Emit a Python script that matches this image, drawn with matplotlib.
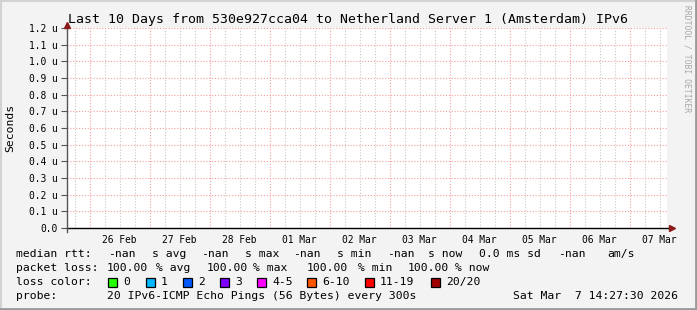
import matplotlib
matplotlib.use("Agg")
import matplotlib.pyplot as plt
from matplotlib.patches import Rectangle
from matplotlib.lines import Line2D

# figure size in pixels
W, H = 697, 310

title = "Last 10 Days from 530e927cca04 to Netherland Server 1 (Amsterdam) IPv6"
day_labels = ["26 Feb", "27 Feb", "28 Feb", "01 Mar", "02 Mar",
              "03 Mar", "04 Mar", "05 Mar", "06 Mar", "07 Mar"]
t_start = 14.9          # hours after 25 Feb 00:00
span_hours = 240        # last 10 days
y_vals = [0.0, 0.1, 0.2, 0.3, 0.4, 0.5, 0.6, 0.7, 0.8, 0.9, 1.0, 1.1, 1.2]  # microseconds

rtt_tokens = ["median rtt:", "-nan", "s avg", "-nan", "s max", "-nan", "s min",
              "-nan", "s now", "0.0 ms sd", "-nan", "am/s"]
loss_tokens = ["packet loss:", "100.00", "% avg", "100.00", "% max",
               "100.00", "% min", "100.00", "% now"]
loss_labels = ["0", "1", "2", "3", "4-5", "6-10", "11-19", "20/20"]
loss_colors = ["#26ff00", "#00b8ff", "#0059ff", "#7e00ff",
               "#ff00ff", "#ff5500", "#ff0000", "#a10000"]
probe_text = "20 IPv6-ICMP Echo Pings (56 Bytes) every 300s"
stamp = "Sat Mar  7 14:27:30 2026"
watermark = "RRDTOOL / TOBI OETIKER"

mono = "DejaVu Sans Mono"


def fx(x):
    return x / W


def fy(y):
    return 1 - y / H


fig = plt.figure(figsize=(W / 100, H / 100), dpi=100)
fig.patch.set_facecolor("#f3f3f3")

# 3d-ish frame
fig.add_artist(Line2D([0, 1], [fy(0.5), fy(0.5)], color="#d2d2d2", lw=1.5, transform=fig.transFigure))
fig.add_artist(Line2D([fx(0.5), fx(0.5)], [0, 1], color="#d2d2d2", lw=1.5, transform=fig.transFigure))
fig.add_artist(Line2D([0, 1], [fy(309), fy(309)], color="#9a9a9a", lw=2, transform=fig.transFigure))
fig.add_artist(Line2D([fx(696), fx(696)], [0, 1], color="#9a9a9a", lw=2, transform=fig.transFigure))

ax = fig.add_axes([fx(67), fy(228), 600 / W, 200 / H])
ax.set_facecolor("white")
t_end = t_start + span_hours
ax.set_xlim(t_start, t_end)
ymax = y_vals[-1] * 1e-6
ax.set_ylim(0, ymax)

# grid: minor every 6 h grey, major every day red
dotted = (0, (1, 1.6))
minor = [h for h in range(0, 24 * 12, 6) if t_start < h < t_end and h % 24]
major = [h for h in range(0, 24 * 12, 24) if t_start < h < t_end]
ax.vlines(minor, 0, ymax, colors="#c8c8c8", lw=0.8, linestyles=dotted, zorder=1)
ax.vlines(major, 0, ymax, colors="#f4a0a0", lw=0.8, linestyles=dotted, zorder=2)
ax.hlines([v * 1e-6 for v in y_vals[1:]], t_start, t_end, colors="#f4a0a0",
          lw=0.8, linestyles=dotted, zorder=2)

# ticks
ax.set_yticks([v * 1e-6 for v in y_vals])
ax.set_yticklabels([f"{v:.1f} u" if v else "0.0" for v in y_vals],
                   family=mono, fontsize=6.9)
ax.tick_params(axis="y", length=4, width=0.8, color="#555555", pad=3)
ax.set_xticks([24 * (i + 1) + 12 for i in range(len(day_labels))])
ax.set_xticklabels(day_labels, family=mono, fontsize=6.9)
ax.tick_params(axis="x", length=0, pad=5)

for s in ["top", "right", "bottom", "left"]:
    ax.spines[s].set_visible(False)

# axes lines + arrows
ax.plot([0, 1.005], [0, 0], color="black", lw=1, transform=ax.transAxes, clip_on=False, zorder=5)
ax.plot([0, 0], [-0.02, 1.015], color="#555555", lw=1, transform=ax.transAxes, clip_on=False, zorder=5)
ax.plot([1.008], [0], marker=">", ms=5, color="#8b1a1a", transform=ax.transAxes, clip_on=False, zorder=6)
ax.plot([0], [1.015], marker="^", ms=5, color="#8b1a1a", transform=ax.transAxes, clip_on=False, zorder=6)

fig.text(fx(347.5), fy(19.5), title, family=mono, fontsize=9.5, ha="center", va="center")
fig.text(fx(10), fy(128), "Seconds", family=mono, fontsize=8.2, rotation=90,
         ha="center", va="center")
fig.text(fx(687), fy(5), watermark, family=mono, fontsize=5.8, rotation=-90,
         ha="center", va="top", color="#a8a8a8")

fs = 8.2
rtt_x = [16, 108, 152, 201, 245, 293, 337, 387, 428, 479, 558, 607]
for x, s in zip(rtt_x, rtt_tokens):
    fig.text(fx(x), fy(254), s, family=mono, fontsize=fs, va="center")

loss_x = [16, 107, 156, 207, 253, 307, 358, 408, 455]
for x, s in zip(loss_x, loss_tokens):
    fig.text(fx(x), fy(268), s, family=mono, fontsize=fs, va="center")

fig.text(fx(16), fy(282), "loss color:", family=mono, fontsize=fs, va="center")
sq_x = [108, 146, 183, 220, 257, 307, 365, 431]
for x, lab, col in zip(sq_x, loss_labels, loss_colors):
    fig.add_artist(Rectangle((fx(x), fy(286.5)), 9 / W, 9 / H, facecolor=col,
                             edgecolor="black", lw=0.9, transform=fig.transFigure))
    fig.text(fx(x + 15), fy(282), lab, family=mono, fontsize=fs, va="center")

fig.text(fx(16), fy(296), "probe:", family=mono, fontsize=fs, va="center")
fig.text(fx(107), fy(296), probe_text, family=mono, fontsize=fs, va="center")
fig.text(fx(513), fy(296), stamp, family=mono, fontsize=fs, va="center")

fig.savefig("out.png", dpi=100, facecolor=fig.get_facecolor())
